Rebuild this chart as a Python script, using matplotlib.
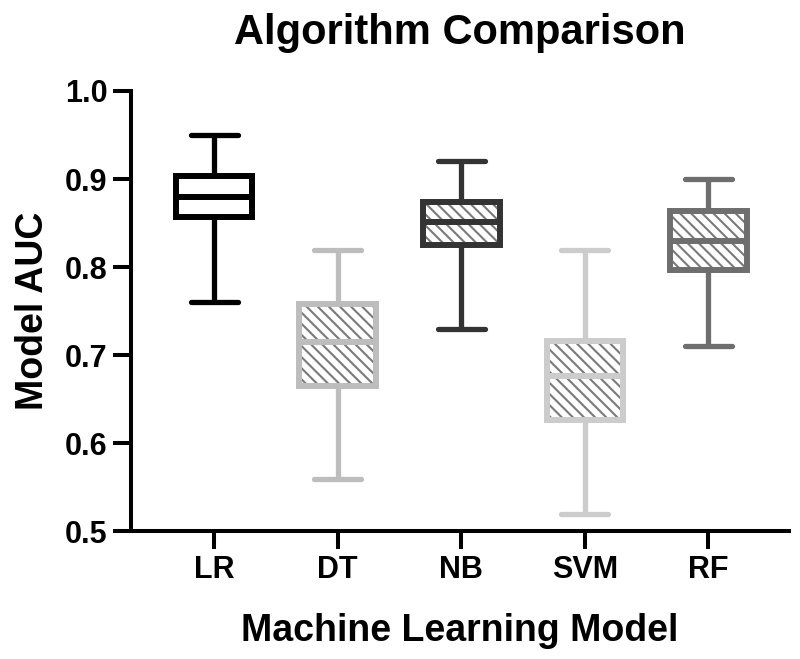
import numpy as np
import matplotlib
matplotlib.use("Agg")
import matplotlib.pyplot as plt

plt.rcParams['font.family'] = ['Liberation Sans', 'DejaVu Sans']
plt.rcParams['font.weight'] = 'bold'
plt.rcParams['hatch.linewidth'] = 1.5

# --- data ---
models = ["LR", "DT", "NB", "SVM", "RF"]
auc_min = [0.76, 0.56, 0.73, 0.52, 0.71]
auc_q1 = [0.857, 0.665, 0.825, 0.627, 0.797]
auc_med = [0.880, 0.715, 0.851, 0.677, 0.830]
auc_q3 = [0.903, 0.758, 0.874, 0.716, 0.864]
auc_max = [0.95, 0.82, 0.92, 0.82, 0.90]

colors = ["#000000", "#bdbdbd", "#333333", "#cccccc", "#6e6e6e"]
hatched = [False, True, True, True, True]

fig = plt.figure(figsize=(8.0, 6.59), dpi=100)
ax = fig.add_axes([0.164, 0.1935, 0.822, 0.6685])

positions = np.arange(1, len(models) + 1)
box_w = 0.62

# hatched fill behind the outlines
for i, pos in enumerate(positions):
    if hatched[i]:
        ax.bar(pos, auc_q3[i] - auc_q1[i], bottom=auc_q1[i], width=box_w,
               facecolor="white", edgecolor="#7a7a7a", hatch="\\\\\\",
               linewidth=0, zorder=2)

stats = []
for i, m in enumerate(models):
    stats.append({"label": m, "whislo": auc_min[i], "q1": auc_q1[i],
                  "med": auc_med[i], "q3": auc_q3[i], "whishi": auc_max[i]})

for i, s in enumerate(stats):
    c = colors[i]
    ax.bxp([s], positions=[positions[i]], widths=box_w, showfliers=False,
           patch_artist=True, capwidths=0.38,
           boxprops=dict(facecolor="none", edgecolor=c, linewidth=4.3, joinstyle="miter"),
           medianprops=dict(color=c, linewidth=4.3, solid_capstyle="butt"),
           whiskerprops=dict(color=c, linewidth=3.8, solid_capstyle="butt"),
           capprops=dict(color=c, linewidth=3.8, solid_capstyle="round"),
           manage_ticks=False)
    ax.patches[-1].set_zorder(3)

ax.set_xlim(0.33, 5.65)
ax.set_ylim(0.5, 1.0)
ax.set_yticks([0.5, 0.6, 0.7, 0.8, 0.9, 1.0])
ax.set_yticklabels(["0.5", "0.6", "0.7", "0.8", "0.9", "1.0"])
ax.set_xticks(positions)
ax.set_xticklabels(models)

for side in ["top", "right"]:
    ax.spines[side].set_visible(False)
for side in ["left", "bottom"]:
    ax.spines[side].set_linewidth(2.9)
    ax.spines[side].set_capstyle("projecting")

ax.tick_params(axis="both", width=2.9, length=13, labelsize=22, pad=4)

ax.set_title("Algorithm Comparison", fontsize=30, fontweight="bold", pad=34)
ax.set_xlabel("Machine Learning Model", fontsize=27, fontweight="bold", labelpad=20)
ax.set_ylabel("Model AUC", fontsize=27, fontweight="bold", labelpad=10)

fig.savefig("out.png", dpi=100, facecolor="white")
